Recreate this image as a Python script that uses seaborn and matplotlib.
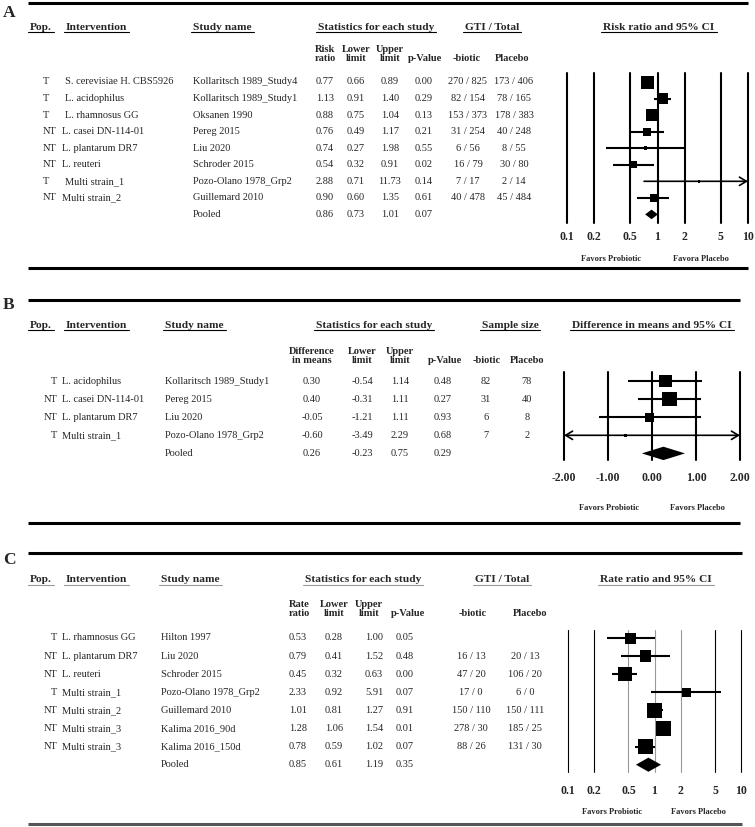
import numpy as np
import matplotlib
matplotlib.use("Agg")
import matplotlib.pyplot as plt
import seaborn as sns

# ---------------- panel A : risk ratio of GTI ----------------
a_pop = ["T", "T", "T", "NT", "NT", "NT", "T", "NT"]
a_intervention = ["S. cerevisiae H. CBS5926", "L. acidophilus", "L. rhamnosus GG", "L. casei DN-114-01",
                  "L. plantarum DR7", "L. reuteri", "Multi strain_1", "Multi strain_2"]
a_study = ["Kollaritsch 1989_Study4", "Kollaritsch 1989_Study1", "Oksanen 1990", "Pereg 2015",
           "Liu 2020", "Schroder 2015", "Pozo-Olano 1978_Grp2", "Guillemard 2010"]
a_est = [0.77, 1.13, 0.88, 0.76, 0.74, 0.54, 2.88, 0.90]
a_lower = [0.66, 0.91, 0.75, 0.49, 0.27, 0.32, 0.71, 0.60]
a_upper = [0.89, 1.40, 1.04, 1.17, 1.98, 0.91, 11.73, 1.35]
a_p = [0.00, 0.29, 0.13, 0.21, 0.55, 0.02, 0.14, 0.61]
a_biotic = ["270 / 825", "82 / 154", "153 / 373", "31 / 254", "6 / 56", "16 / 79", "7 / 17", "40 / 478"]
a_placebo = ["173 / 406", "78 / 165", "178 / 383", "40 / 248", "8 / 55", "30 / 80", "2 / 14", "45 / 484"]
a_weight = [13, 11, 12.5, 8, 3.5, 7, 2.7, 7.5]   # square side
a_pooled = [0.86, 0.73, 1.01, 0.07]
a_ticks = [0.1, 0.2, 0.5, 1, 2, 5, 10]
a_ticklabels = ["0.1", "0.2", "0.5", "1", "2", "5", "10"]

# ---------------- panel B : difference in means ----------------
b_pop = ["T", "NT", "NT", "T"]
b_intervention = ["L. acidophilus", "L. casei DN-114-01", "L. plantarum DR7", "Multi strain_1"]
b_study = ["Kollaritsch 1989_Study1", "Pereg 2015", "Liu 2020", "Pozo-Olano 1978_Grp2"]
b_est = [0.30, 0.40, -0.05, -0.60]
b_lower = [-0.54, -0.31, -1.21, -3.49]
b_upper = [1.14, 1.11, 1.11, 2.29]
b_p = [0.48, 0.27, 0.93, 0.68]
b_biotic = ["82", "31", "6", "7"]
b_placebo = ["78", "40", "8", "2"]
b_weight = [12.7, 14.7, 8.7, 3.3]
b_pooled = [0.26, -0.23, 0.75, 0.29]
b_ticks = [-2, -1, 0, 1, 2]
b_ticklabels = ["-2.00", "-1.00", "0.00", "1.00", "2.00"]

# ---------------- panel C : rate ratio ----------------
c_pop = ["T", "NT", "NT", "T", "NT", "NT", "NT"]
c_intervention = ["L. rhamnosus GG", "L. plantarum DR7", "L. reuteri", "Multi strain_1",
                  "Multi strain_2", "Multi strain_3", "Multi strain_3"]
c_study = ["Hilton 1997", "Liu 2020", "Schroder 2015", "Pozo-Olano 1978_Grp2",
           "Guillemard 2010", "Kalima 2016_90d", "Kalima 2016_150d"]
c_est = [0.53, 0.79, 0.45, 2.33, 1.01, 1.28, 0.78]
c_lower = [0.28, 0.41, 0.32, 0.92, 0.81, 1.06, 0.59]
c_upper = [1.00, 1.52, 0.63, 5.91, 1.27, 1.54, 1.02]
c_p = [0.05, 0.48, 0.00, 0.07, 0.91, 0.01, 0.07]
c_biotic = ["", "16 / 13", "47 / 20", "17 / 0", "150 / 110", "278 / 30", "88 / 26"]
c_placebo = ["", "20 / 13", "106 / 20", "6 / 0", "150 / 111", "185 / 25", "131 / 30"]
c_weight = [11, 11.7, 14, 9.3, 15, 15, 14.7]
c_pooled = [0.85, 0.61, 1.19, 0.35]

sns.set_style("white")
plt.rcParams["font.family"] = ["Liberation Serif", "DejaVu Serif"]

W, H = 755, 827
fig = plt.figure(figsize=(W / 100, H / 100), dpi=100)
bg = fig.add_axes([0, 0, 1, 1])
bg.set_xlim(0, W)
bg.set_ylim(H, 0)
bg.axis("off")

underlined = []


def px_axes(x0, y0, x1, y1):
    return fig.add_axes([x0 / W, 1 - y1 / H, (x1 - x0) / W, (y1 - y0) / H])


def txt(x, y, s, ha="left", size=7.5, bold=False, va="center"):
    return bg.text(x, y, s, ha=ha, va=va, fontsize=size, fontweight="bold" if bold else "normal")


def header(x, y, s, ha, col):
    t = txt(x, y, s, ha=ha, size=8.2, bold=True)
    underlined.append((t, col))


def forest(box, y0, step, est, lo, hi, side, pooled, xlim, log, ticks, labels,
           vcols, vlw, half_h, pad):
    ax = px_axes(*box)
    if log:
        ax.set_xscale("log")
    for t, c in zip(ticks, vcols):
        ax.axvline(t, color=c, lw=vlw, zorder=1, clip_on=False)
    rows = np.arange(len(est))
    for r, a, b in zip(rows, lo, hi):
        a2, b2 = max(a, xlim[0]), min(b, xlim[1])
        if a2 != a or b2 != b:
            style = "<->" if (a2 != a and b2 != b) else ("->" if b2 != b else "<-")
            ax.annotate("", xy=(b2, r), xytext=(a2, r),
                        arrowprops=dict(arrowstyle=style + ",head_length=0.5,head_width=0.3",
                                        lw=1.2, color="black", shrinkA=0, shrinkB=0), zorder=2)
        else:
            ax.hlines(r, a, b, color="black", lw=1.5, zorder=2)
    sns.scatterplot(x=est, y=rows, s=[(w * 0.72) ** 2 for w in side], marker="s",
                    color="black", linewidth=0, legend=False, ax=ax, zorder=3)
    pr = len(est)
    ax.fill([pooled[1], pooled[0], pooled[2], pooled[0]], [pr, pr - half_h, pr, pr + half_h],
            color="black", zorder=3, lw=0)
    ax.set_xlim(*xlim)
    ax.set_ylim((box[3] - y0) / step, (box[1] - y0) / step)
    ax.set_xticks(ticks)
    ax.set_xticklabels(labels, fontsize=8.5, fontweight="bold")
    ax.minorticks_off()
    ax.set_yticks([])
    ax.set_xlabel("")
    ax.set_ylabel("")
    ax.tick_params(axis="x", length=0, pad=pad)
    for s in ax.spines.values():
        s.set_visible(False)
    ax.patch.set_alpha(0)
    return ax


def rule(y, x1, col="black"):
    bg.plot([28, x1], [y, y], color=col, lw=2.2, solid_capstyle="butt")


# ================= A =================
rule(3, 748)
rule(268, 748)
txt(3, 13, "A", size=12.5, bold=True)
hy = 27
header(30, hy, "Pop.", "left", "black")
header(66, hy, "Intervention", "left", "black")
header(193, hy, "Study name", "left", "black")
header(376, hy, "Statistics for each study", "center", "black")
header(492, hy, "GTI / Total", "center", "black")
header(659, hy, "Risk ratio and 95% CI", "center", "black")
sb = 63
for x, s in [(325, "Risk\nratio"), (356, "Lower\nlimit"), (390, "Upper\nlimit"),
             (425, "p-Value"), (467, "-biotic"), (512, "Placebo")]:
    t = txt(x, sb, s, ha="center", bold=True, va="bottom")
    t.set_linespacing(1.05)
y0, dy = 82, 16.55
for i in range(len(a_est)):
    y = y0 + i * dy
    txt(43, y, a_pop[i])
    txt(65 if a_pop[i] == "T" else 62, y, a_intervention[i])
    txt(193, y, a_study[i])
    txt(325, y, f"{a_est[i]:.2f}", ha="center")
    txt(356, y, f"{a_lower[i]:.2f}", ha="center")
    txt(390, y, f"{a_upper[i]:.2f}", ha="center")
    txt(424, y, f"{a_p[i]:.2f}", ha="center")
    txt(468, y, a_biotic[i], ha="center")
    txt(514, y, a_placebo[i], ha="center")
y = y0 + len(a_est) * dy
txt(193, y, "Pooled")
for x, v in zip([325, 356, 390, 424], a_pooled):
    txt(x, y, f"{v:.2f}", ha="center")
forest((567, 73, 748, 223), y0, dy, a_est, a_lower, a_upper, a_weight, a_pooled, (0.1, 10), True,
       a_ticks, a_ticklabels, ["black"] * 7, 1.5, 0.29, 6)
txt(611, 259, "Favors Probiotic", ha="center", size=6, bold=True)
txt(701, 259, "Favora Placebo", ha="center", size=6, bold=True)

# ================= B =================
rule(300, 740)
rule(523, 740)
txt(3, 305, "B", size=12.5, bold=True)
hy = 325
header(30, hy, "Pop.", "left", "black")
header(66, hy, "Intervention", "left", "black")
header(165, hy, "Study name", "left", "black")
header(374, hy, "Statistics for each study", "center", "black")
header(510, hy, "Sample size", "center", "black")
header(652, hy, "Difference in means and 95% CI", "center", "black")
sb = 365
for x, s in [(312, "Difference\nin means"), (362, "Lower\nlimit"), (400, "Upper\nlimit"),
             (445, "p-Value"), (487, "-biotic"), (527, "Placebo")]:
    t = txt(x, sb, s, ha="center", bold=True, va="bottom")
    t.set_linespacing(1.05)
y0, dy = 381, 18.1
for i in range(len(b_est)):
    y = y0 + i * dy
    txt(57, y, b_pop[i], ha="right")
    txt(61.5, y, b_intervention[i])
    txt(165, y, b_study[i])
    txt(312, y, f"{b_est[i]:.2f}", ha="center")
    txt(362, y, f"{b_lower[i]:.2f}", ha="center")
    txt(400, y, f"{b_upper[i]:.2f}", ha="center")
    txt(443, y, f"{b_p[i]:.2f}", ha="center")
    txt(486, y, b_biotic[i], ha="center")
    txt(527, y, b_placebo[i], ha="center")
y = y0 + len(b_est) * dy
txt(165, y, "Pooled")
for x, v in zip([312, 362, 400, 443], b_pooled):
    txt(x, y, f"{v:.2f}", ha="center")
forest((564, 372, 740, 460), y0, dy, b_est, b_lower, b_upper, b_weight, b_pooled, (-2, 2), False,
       b_ticks, b_ticklabels, ["black"] * 5, 1.5, 0.37, 9)
txt(609, 508, "Favors Probiotic", ha="center", size=6, bold=True)
txt(697, 508, "Favors Placebo", ha="center", size=6, bold=True)

# ================= C =================
rule(553, 742)
rule(824, 742, "#555555")
txt(3, 560, "C", size=12.5, bold=True)
hy = 580
header(30, hy, "Pop.", "left", "#999999")
header(66, hy, "Intervention", "left", "#999999")
header(161, hy, "Study name", "left", "#999999")
header(363, hy, "Statistics for each study", "center", "#999999")
header(502, hy, "GTI / Total", "center", "#999999")
header(656, hy, "Rate ratio and 95% CI", "center", "#999999")
sb = 618
for x, s in [(299, "Rate\nratio"), (334, "Lower\nlimit"), (369, "Upper\nlimit"),
             (408, "p-Value"), (473, "-biotic"), (530, "Placebo")]:
    t = txt(x, sb, s, ha="center", bold=True, va="bottom")
    t.set_linespacing(1.05)
y0, dy = 638, 18.1
for i in range(len(c_est)):
    y = y0 + i * dy
    txt(57, y, c_pop[i], ha="right")
    txt(61.5, y, c_intervention[i])
    txt(161, y, c_study[i])
    txt(298, y, f"{c_est[i]:.2f}", ha="center")
    txt(334, y, f"{c_lower[i]:.2f}", ha="center")
    txt(374, y, f"{c_upper[i]:.2f}", ha="center")
    txt(405, y, f"{c_p[i]:.2f}", ha="center")
    txt(471, y, c_biotic[i], ha="center")
    txt(525, y, c_placebo[i], ha="center")
y = y0 + len(c_est) * dy
txt(161, y, "Pooled")
for x, v in zip([298, 334, 374, 405], c_pooled):
    txt(x, y, f"{v:.2f}", ha="center")
forest((568, 630, 741, 772), y0, dy, c_est, c_lower, c_upper, c_weight, c_pooled, (0.1, 10), True,
       a_ticks, a_ticklabels, ["black", "black", "#999999", "#999999", "#999999", "black", "black"],
       0.8, 0.39, 9)
txt(612, 812, "Favors Probiotic", ha="center", size=6, bold=True)
txt(698, 812, "Favors Placebo", ha="center", size=6, bold=True)

# underline the column headers
fig.canvas.draw()
rend = fig.canvas.get_renderer()
for t, col in underlined:
    bb = t.get_window_extent(rend)
    yb = H - bb.y0 + 0.5
    bg.plot([bb.x0 - 2, bb.x1 + 2], [yb, yb], color=col, lw=0.8)

fig.savefig("out.png", dpi=100)
